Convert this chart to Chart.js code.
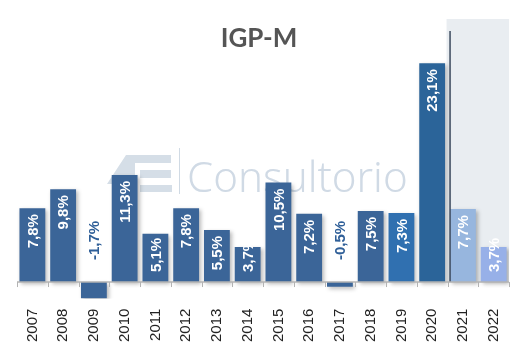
<!DOCTYPE html>
<html>
<head>
<meta charset="utf-8">
<script src="https://cdn.jsdelivr.net/npm/chart.js@4.4.1/dist/chart.umd.min.js"></script>
<style>
html,body{margin:0;padding:0;background:#fff;}
#wrap{width:522px;height:358px;position:relative;}
</style>
</head>
<body>
<div id="wrap"><canvas id="c" width="522" height="358"></canvas></div>
<script>
const categories = ["2007","2008","2009","2010","2011","2012","2013","2014","2015","2016","2017","2018","2019","2020","2021","2022"];
const values = [7.8, 9.8, -1.7, 11.3, 5.1, 7.8, 5.5, 3.7, 10.5, 7.2, -0.5, 7.5, 7.3, 23.1, 7.7, 3.7];
const barColors = ["#3b6598","#3b6598","#3b6598","#3b6598","#3b6598","#3b6598","#3b6598","#3b6598","#3b6598","#3b6598","#3b6598","#3b6598","#3070b0","#2b6499","#97b6de","#97b0e8"];
const forecastStart = 14; // index of first projected year
const titleText = "IGP-M";
const watermarkText = "Consultorio";

const fmt = v => v.toFixed(1).replace('.', ',') + '%';

const decor = {
  id: 'decor',
  beforeDatasetsDraw(chart) {
    const {ctx, chartArea, scales} = chart;
    const x = scales.x, y = scales.y;
    const zero = y.getPixelForValue(0);
    const half = (x.getPixelForValue(1) - x.getPixelForValue(0)) / 2;
    const sx = x.getPixelForValue(forecastStart) - half - 1;
    ctx.save();
    ctx.fillStyle = '#e9edf1';
    ctx.fillRect(sx, chartArea.top - 12, chartArea.right - sx, zero - chartArea.top + 12);
    // watermark logo
    ctx.fillStyle = '#d5dee7';
    ctx.beginPath();
    ctx.moveTo(107, 184); ctx.lineTo(126, 155); ctx.lineTo(171, 155); ctx.lineTo(171, 163);
    ctx.lineTo(135, 163); ctx.lineTo(135, 192); ctx.lineTo(127, 192); ctx.lineTo(127, 184); ctx.closePath();
    ctx.fill();
    ctx.fillRect(140, 170, 31, 8);
    ctx.fillRect(140, 185, 32, 7);
    ctx.strokeStyle = '#d0dae4';
    ctx.lineWidth = 1;
    ctx.beginPath(); ctx.moveTo(179.5, 148); ctx.lineTo(179.5, 194); ctx.stroke();
    ctx.fillStyle = '#d0dae5';
    ctx.font = '300 42px "Noto Sans"';
    ctx.textBaseline = 'alphabetic';
    ctx.fillText(watermarkText, 187, 192, 238);
    ctx.restore();
  },
  beforeDatasetDraw(chart) {
    const ctx = chart.ctx;
    ctx.save();
    ctx.shadowColor = 'rgba(0,0,0,0.28)';
    ctx.shadowBlur = 4;
    ctx.shadowOffsetX = 2;
    ctx.shadowOffsetY = 2;
  },
  afterDatasetDraw(chart) {
    chart.ctx.restore();
  },
  afterDatasetsDraw(chart) {
    const {ctx, chartArea, scales} = chart;
    const x = scales.x, y = scales.y;
    const zero = y.getPixelForValue(0);
    const half = (x.getPixelForValue(1) - x.getPixelForValue(0)) / 2;
    ctx.save();
    // forecast divider
    const lx = x.getPixelForValue(forecastStart) - half + 2.5;
    ctx.strokeStyle = '#3c4a5e';
    ctx.lineWidth = 1.5;
    ctx.beginPath(); ctx.moveTo(lx, chartArea.top); ctx.lineTo(lx, zero); ctx.stroke();
    // zero axis line with tick marks
    ctx.strokeStyle = '#b3b3b3';
    ctx.lineWidth = 1.5;
    ctx.beginPath(); ctx.moveTo(chartArea.left, zero); ctx.lineTo(chartArea.right, zero); ctx.stroke();
    ctx.lineWidth = 1;
    ctx.beginPath();
    for (let i = 0; i <= categories.length; i++) {
      const tx = Math.round(x.getPixelForValue(i) - half) + 0.5;
      ctx.moveTo(tx, zero); ctx.lineTo(tx, zero + 5);
    }
    ctx.stroke();
    // data labels
    const meta = chart.getDatasetMeta(0);
    ctx.font = 'bold 15px "Liberation Sans"';
    ctx.textAlign = 'left';
    ctx.textBaseline = 'middle';
    meta.data.forEach((bar, i) => {
      const v = values[i];
      const t = fmt(v);
      const w = ctx.measureText(t).width;
      let start;
      if (v >= 0) {
        start = bar.y + 6 + w;
        if (start > zero - 10) start = zero - 10;
        ctx.fillStyle = '#ffffff';
      } else {
        start = zero - 22;
        ctx.fillStyle = '#2f5f98';
      }
      ctx.save();
      ctx.translate(bar.x, start);
      ctx.rotate(-Math.PI / 2);
      ctx.fillText(t, 0, 1);
      ctx.restore();
    });
    ctx.restore();
  },
  afterDraw(chart) {
    const ctx = chart.ctx;
    ctx.save();
    ctx.fillStyle = '#555555';
    ctx.font = 'bold 26px Lato';
    ctx.textAlign = 'center';
    ctx.textBaseline = 'alphabetic';
    ctx.fillText(titleText, 259, 47);
    ctx.restore();
  }
};

new Chart(document.getElementById('c'), {
  type: 'bar',
  data: {
    labels: categories,
    datasets: [{
      data: values,
      backgroundColor: barColors,
      borderWidth: 0,
      barPercentage: 0.84,
      categoryPercentage: 1.0
    }]
  },
  options: {
    responsive: false,
    animation: false,
    devicePixelRatio: 1,
    layout: { padding: { left: 17, right: 10, top: 31, bottom: 6 } },
    plugins: { legend: { display: false }, tooltip: { enabled: false }, title: { display: false } },
    scales: {
      x: {
        grid: { display: false, drawTicks: false },
        border: { display: false },
        ticks: { color: '#222', font: { family: 'Liberation Sans', size: 15 }, minRotation: 90, maxRotation: 90, padding: 10 }
      },
      y: {
        display: false,
        min: -1.75,
        max: 26.5
      }
    }
  },
  plugins: [decor]
});
</script>
</body>
</html>
